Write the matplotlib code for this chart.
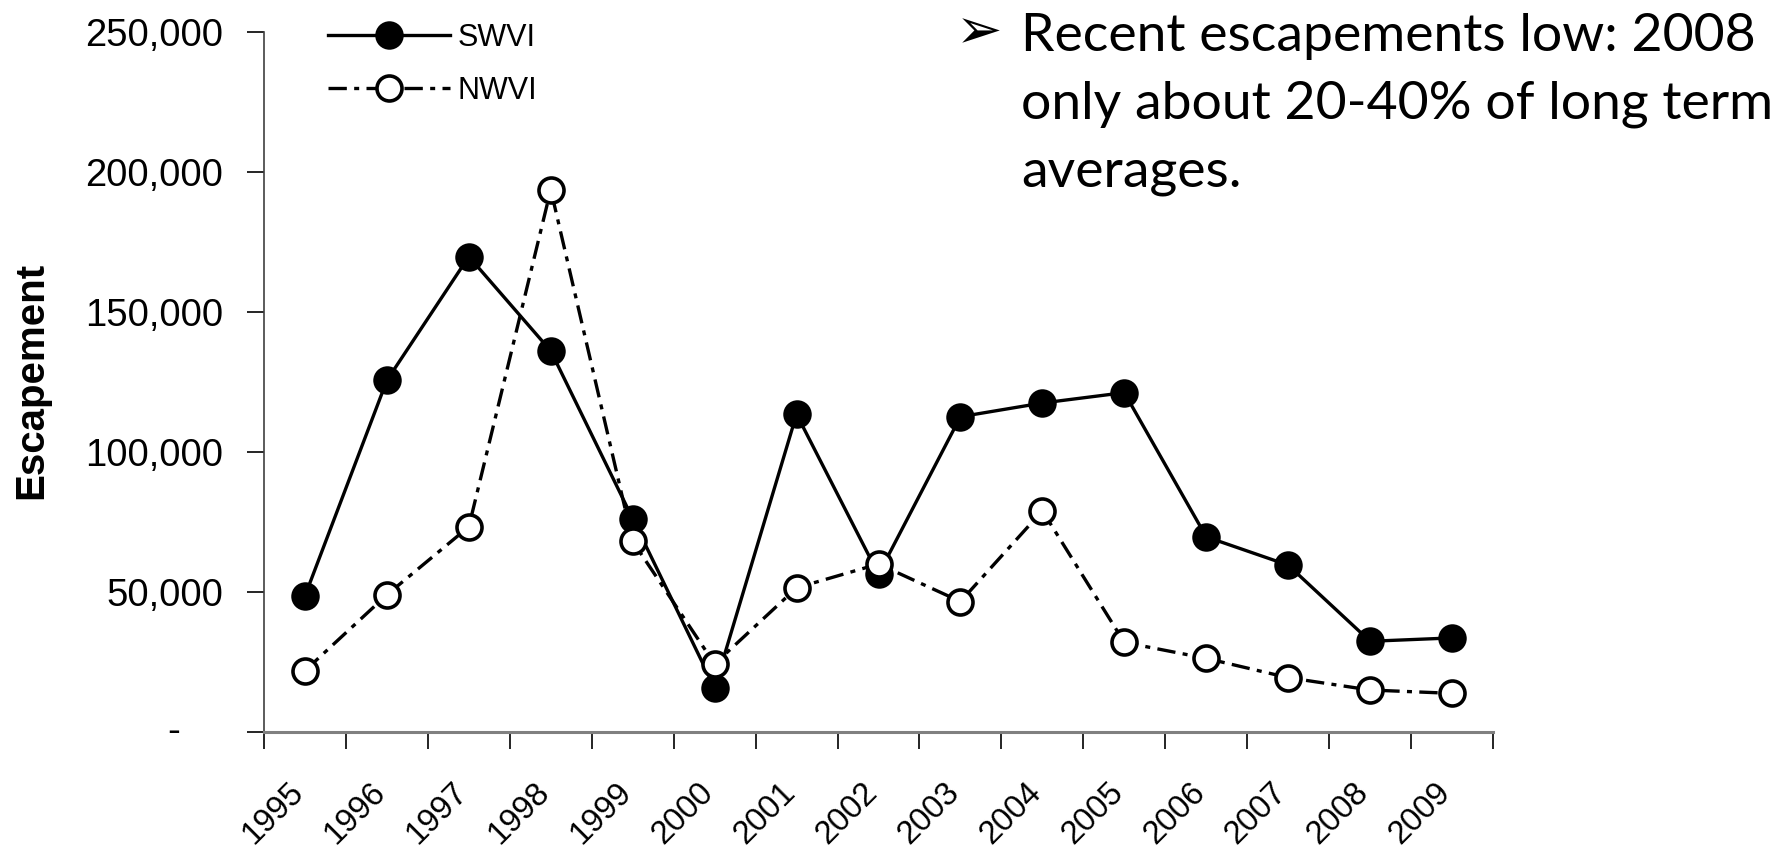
import matplotlib
matplotlib.use("Agg")
import matplotlib.pyplot as plt
from matplotlib.ticker import FixedLocator, FuncFormatter
import matplotlib.transforms as mtransforms
from matplotlib.lines import Line2D

years = ["1995", "1996", "1997", "1998", "1999", "2000", "2001", "2002",
         "2003", "2004", "2005", "2006", "2007", "2008", "2009"]
swvi = [48600, 125600, 169800, 136100, 76200, 15800, 113500, 56300,
        112600, 117500, 121200, 69700, 59600, 32400, 33600]
nwvi = [21900, 49000, 73300, 193700, 68100, 24300, 51500, 60000,
        46600, 79000, 32000, 26300, 19400, 15000, 13800]
y_ticks = [0, 50000, 100000, 150000, 200000, 250000]
series_names = ["SWVI", "NWVI"]
y_label = "Escapement"
note_lines = ["Recent escapements low: 2008",
              "only about 20-40% of long term",
              "averages."]

plt.rcParams['font.family'] = ['Liberation Sans', 'DejaVu Sans']

W, H = 1779, 856
fig = plt.figure(figsize=(W / 100, H / 100), dpi=100)
ax = fig.add_axes([264 / W, 1 - 732 / H, (1493 - 264) / W, (732 - 32) / H])

x = list(range(len(years)))
lw = 2.4
dash = (0, (5.5, 2.2, 1.5, 2.2))
ax.plot(x, swvi, color='black', lw=lw, marker='o', ms=19, mfc='black',
        mec='black', mew=1.5, zorder=3, clip_on=False)
ax.plot(x, nwvi, color='black', lw=lw, ls=dash, marker='o', ms=18, mfc='white',
        mec='black', mew=2.6, zorder=4, clip_on=False)

ax.set_xlim(-0.5, len(years) - 0.5)
ax.set_ylim(0, 250000)

# x ticks: marks at category boundaries, labels at centres
ax.xaxis.set_major_locator(FixedLocator([i - 0.5 for i in range(len(years) + 1)]))
ax.xaxis.set_major_formatter(FuncFormatter(lambda v, p: ""))
ax.set_xticks(x, minor=True)
ax.set_xticklabels(years, minor=True, rotation=45, ha='right', va='top',
                   rotation_mode='anchor', fontsize=23.5)
ax.tick_params(axis='x', which='major', direction='out', length=12, width=1.2, color='black')
ax.tick_params(axis='x', which='minor', length=0, pad=0)
off = mtransforms.ScaledTranslation(-17 / 100, -45 / 100, fig.dpi_scale_trans)
for lab in ax.get_xticklabels(minor=True):
    lab.set_transform(lab.get_transform() + off)

ax.set_yticks(y_ticks)
ax.set_yticklabels(["" if v == 0 else f"{v:,}" for v in y_ticks], fontsize=27.5)
ax.tick_params(axis='y', direction='out', length=12.5, width=1.2, color='black', pad=17)
ax.text(-0.068, 0, "-", transform=mtransforms.blended_transform_factory(ax.transAxes, ax.transData),
        ha='right', va='center', fontsize=27.5)

for s in ['top', 'right']:
    ax.spines[s].set_visible(False)
ax.spines['left'].set_color('#404040')
ax.spines['left'].set_linewidth(1.2)
ax.spines['bottom'].set_color('#808080')
ax.spines['bottom'].set_linewidth(2.2)

fig.text(31 / W, 1 - 380 / H, y_label, rotation=90, fontsize=29, fontweight='bold',
         ha='center', va='center')

handles = [
    Line2D([], [], color='black', lw=lw, marker='o', ms=19, mfc='black', mec='black', mew=1.5),
    Line2D([], [], color='black', lw=lw, ls=dash, marker='o', ms=18, mfc='white',
           mec='black', mew=2.6),
]
leg = ax.legend(handles, series_names, loc='upper left', bbox_to_anchor=(328 / W, 1 - 23 / H),
                bbox_transform=fig.transFigure, frameon=False, fontsize=22,
                handlelength=4.0, handletextpad=0.25, labelspacing=0.75,
                borderpad=0, borderaxespad=0)

# annotation text
fig.text(956 / W, 1 - 48 / H, "\u27a2", family='DejaVu Sans', fontsize=40,
         ha='left', va='baseline')
for i, line in enumerate(note_lines):
    fig.text(1021 / W, 1 - (51 + 68 * i) / H, line,
             family=['Lato', 'DejaVu Sans'], fontsize=38.5,
             ha='left', va='baseline')

fig.savefig("out.png", dpi=100)
